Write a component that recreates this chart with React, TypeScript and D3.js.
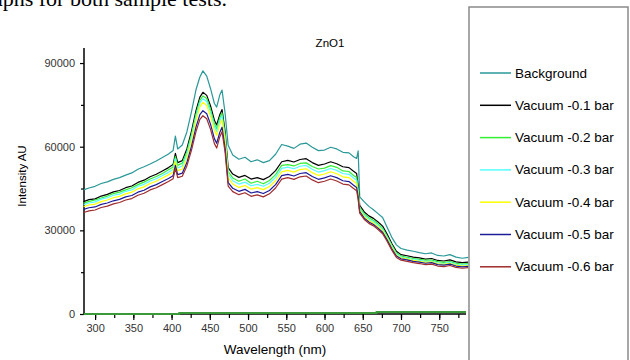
import React, { useEffect, useRef } from 'react'
import * as d3 from 'd3'

// wavelength grid (nm)
const wavelengths = [
  285, 292, 300, 308, 316, 324, 332, 340, 348, 356, 364, 372, 380, 388, 396, 402, 405, 408, 414, 420,
  426, 432, 437, 441, 446, 451, 456, 459, 463, 466, 470, 474, 480, 488, 496, 504, 512, 520, 528, 536,
  544, 552, 560, 568, 576, 584, 592, 600, 608, 616, 624, 632, 638, 642, 644, 646, 652, 658, 664, 670,
  676, 682, 688, 694, 700, 708, 716, 724, 732, 740, 748, 756, 764, 772, 780, 788
]

const background = [
  44500, 45200, 45800, 46800, 47400, 48300, 48900, 49800, 50600, 51900, 52800, 53800, 54900, 56100, 57400, 58600, 63800, 59200, 60600, 65300,
  72500, 80500, 85000, 87200, 85300, 80800, 75500, 74200, 78500, 80300, 72000, 60500, 57000, 55500, 56200, 54600, 55300, 54300, 55000, 57300,
  60800, 60200, 59400, 60900, 61300, 59800, 58600, 58800, 59800, 59200, 58000, 57800, 56400, 55800, 58500, 42000, 40200, 38600, 37400, 36000,
  34600, 31000, 27500, 24800, 23500, 22900, 22500, 22000, 21600, 21900, 21000, 20800, 21300, 20400, 20000, 20300
]

const vacuum01 = [
  40300, 41000, 41300, 42300, 42900, 43800, 44300, 45300, 45900, 47200, 48000, 49200, 50100, 51300, 52500, 53600, 57600, 54300, 55000, 59200,
  65500, 73000, 77800, 79500, 78400, 74600, 69500, 67800, 71500, 73300, 65500, 52500, 50200, 49000, 49700, 48400, 48900, 48200, 49300, 51400,
  54600, 55100, 54500, 55400, 55700, 54300, 53300, 53800, 54600, 53900, 52800, 52500, 51200, 50400, 46000, 39000, 36600, 35200, 34300, 33000,
  31500, 28600, 25300, 22500, 21300, 20900, 20400, 20100, 19700, 19900, 19200, 19000, 19400, 18700, 18400, 18600
]

const vacuum02 = [
  39700, 40400, 40900, 41600, 42300, 43200, 43700, 44500, 45300, 46400, 47300, 48400, 49300, 50400, 51700, 52700, 56500, 53300, 54100, 58100,
  64300, 71800, 76600, 78200, 77300, 73300, 68200, 66500, 70300, 72100, 64100, 51100, 48800, 47600, 48400, 46900, 47600, 46700, 47900, 50000,
  53300, 53600, 53100, 54000, 54200, 52900, 52000, 52300, 53200, 52600, 51300, 51100, 49700, 49000, 44500, 38200, 35900, 34500, 33600, 32300,
  30700, 27800, 24700, 21900, 20800, 20300, 19900, 19600, 19300, 19300, 18800, 18500, 18800, 18200, 17900, 18100
]

const vacuum03 = [
  39200, 39800, 40200, 41200, 41700, 42600, 43000, 44000, 44500, 45800, 46500, 47700, 48500, 49700, 50800, 51900, 55700, 52400, 53100, 57200,
  63400, 70900, 75700, 77200, 76200, 72300, 67200, 65500, 69300, 71100, 63200, 50200, 47800, 46600, 47300, 46000, 46500, 45800, 46900, 49000,
  52200, 52700, 52100, 53000, 53300, 51900, 50900, 51400, 52200, 51500, 50400, 50100, 48800, 48000, 44000, 37700, 35400, 34000, 33100, 31800,
  30300, 27500, 24300, 21500, 20400, 20000, 19500, 19200, 18800, 19000, 18300, 18100, 18500, 17800, 17500, 17700
]

const vacuum04 = [
  38500, 39100, 39400, 40300, 40900, 41700, 42200, 43100, 43700, 44900, 45600, 46800, 47600, 48800, 49900, 50900, 54700, 51400, 52000, 56000,
  62100, 69500, 74300, 75900, 74800, 70900, 65800, 64100, 67900, 69700, 61900, 48900, 46600, 45400, 46100, 44800, 45300, 44600, 45700, 47800,
  51000, 51500, 50900, 51800, 52100, 50700, 49700, 50200, 51000, 50300, 49200, 48900, 47600, 46800, 43000, 37200, 34900, 33500, 32600, 31300,
  29800, 27000, 23800, 21100, 20100, 19700, 19200, 18900, 18500, 18700, 18000, 17800, 18200, 17500, 17200, 17400
]

const vacuum05 = [
  37500, 38100, 38400, 39300, 39800, 40600, 41100, 42000, 42500, 43700, 44400, 45600, 46400, 47500, 48600, 49600, 53300, 50000, 50500, 54300,
  60100, 67100, 71500, 72900, 71800, 68000, 62900, 61200, 65100, 67000, 59500, 47100, 45100, 44000, 44700, 43400, 43900, 43200, 44300, 46400,
  49600, 50100, 49500, 50400, 50700, 49300, 48300, 48800, 49600, 48900, 47800, 47500, 46200, 45400, 42000, 36700, 34400, 33000, 32100, 30800,
  29300, 26500, 23400, 20800, 19800, 19400, 18900, 18600, 18200, 18400, 17700, 17500, 17900, 17200, 16900, 17100
]

const vacuum06 = [
  36400, 37000, 37300, 38200, 38700, 39500, 40000, 40900, 41400, 42600, 43300, 44500, 45300, 46400, 47500, 48500, 52200, 48900, 49400, 53100,
  58700, 65500, 69800, 71100, 70000, 66200, 61100, 59500, 63500, 65400, 58000, 45900, 43900, 42800, 43500, 42200, 42700, 42000, 43100, 45200,
  48400, 48900, 48300, 49200, 49500, 48100, 47100, 47600, 48400, 47700, 46600, 46300, 45000, 44200, 41000, 36200, 33900, 32500, 31600, 30300,
  28800, 26000, 22900, 20300, 19300, 18900, 18400, 18100, 17700, 17900, 17200, 17000, 17400, 16700, 16400, 16600
]

// flat trace lying on the zero line
const baselineWl = [285, 410, 668, 785]
const baselineVals = [0, 360, 720, 720]

const seriesNames = ['Background', 'Vacuum -0.1 bar', 'Vacuum -0.2 bar', 'Vacuum -0.3 bar', 'Vacuum -0.4 bar', 'Vacuum -0.5 bar', 'Vacuum -0.6 bar']
const seriesValues = [background, vacuum01, vacuum02, vacuum03, vacuum04, vacuum05, vacuum06]
const seriesColors = ['#2a9898', '#000000', '#33ee33', '#55ffff', '#ffff00', '#1c1c99', '#a02c2c']

const xTicks = [300, 350, 400, 450, 500, 550, 600, 650, 700, 750]
const yTicks = [0, 30000, 60000, 90000]

const W = 630
const H = 360
const font = 'Arial, "Liberation Sans", sans-serif'

function Spectrum() {
  const ref = useRef<SVGSVGElement | null>(null)

  useEffect(() => {
    const svg = d3.select(ref.current)
    svg.selectAll('*').remove()

    const x = d3.scaleLinear().domain([285.5, 785]).range([84, 466])
    const y = d3.scaleLinear().domain([0, 95400]).range([314, 48])

    svg.append('rect').attr('width', W).attr('height', H).attr('fill', '#fff')

    // clipped text from the surrounding page
    svg.append('text')
      .attr('x', 227).attr('y', 6)
      .attr('text-anchor', 'end')
      .attr('font-family', '"Liberation Serif", "Times New Roman", serif')
      .attr('font-size', 22)
      .attr('fill', '#000')
      .text('graphs for both sample tests.')

    // x axis
    const xMinor = svg.append('g').attr('transform', 'translate(0,314)')
      .call(d3.axisBottom(x).tickValues(d3.range(300, 786, 25)).tickSize(4).tickFormat(() => ''))
    xMinor.select('.domain').remove()
    const xMajor = svg.append('g').attr('transform', 'translate(0,314)')
      .call(d3.axisBottom(x).tickValues(xTicks).tickSize(6).tickPadding(4))
    xMajor.select('.domain').remove()
    xMajor.selectAll('text').attr('font-size', 11).attr('font-family', font).attr('fill', '#333')

    // y axis
    const yMinor = svg.append('g').attr('transform', 'translate(84,0)')
      .call(d3.axisLeft(y).tickValues(d3.range(15000, 95000, 30000)).tickSize(3).tickFormat(() => ''))
    yMinor.select('.domain').remove()
    const yMajor = svg.append('g').attr('transform', 'translate(84,0)')
      .call(d3.axisLeft(y).tickValues(yTicks).tickSize(4).tickPadding(5).tickFormat(d3.format('d')))
    yMajor.select('.domain').remove()
    yMajor.selectAll('text').attr('font-size', 11).attr('font-family', font).attr('fill', '#333')
    svg.selectAll('.tick line').attr('stroke', '#000').attr('stroke-width', 1.2)

    svg.append('line').attr('x1', 84).attr('x2', 84).attr('y1', 48).attr('y2', 315)
      .attr('stroke', '#000').attr('stroke-width', 1.5)
    svg.append('line').attr('x1', 83).attr('x2', 466).attr('y1', 314).attr('y2', 314)
      .attr('stroke', '#000').attr('stroke-width', 1.5)

    // spectra
    const line = d3.line<number>()
      .x((_, i) => x(wavelengths[i]))
      .y(d => y(d))
    seriesValues.forEach((vals, k) => {
      svg.append('path')
        .attr('d', line(vals))
        .attr('fill', 'none')
        .attr('stroke', seriesColors[k])
        .attr('stroke-width', 1.2)
        .attr('stroke-linejoin', 'round')
    })

    const baseLine = d3.line<number>()
      .x((_, i) => x(baselineWl[i]))
      .y(d => y(d))
      .curve(d3.curveStepAfter)
    svg.append('path')
      .attr('d', baseLine(baselineVals))
      .attr('fill', 'none')
      .attr('stroke', '#3a9a3a')
      .attr('stroke-width', 1.8)

    // labels
    svg.append('text')
      .attr('x', 330).attr('y', 47)
      .attr('text-anchor', 'middle')
      .attr('font-family', font).attr('font-size', 11.5)
      .text('ZnO1')
    svg.append('text')
      .attr('x', 275).attr('y', 354)
      .attr('text-anchor', 'middle')
      .attr('font-family', font).attr('font-size', 13.5)
      .text('Wavelength (nm)')
    svg.append('text')
      .attr('transform', 'translate(26,176) rotate(-90)')
      .attr('text-anchor', 'middle')
      .attr('font-family', font).attr('font-size', 11.5)
      .text('Intensity AU')

    // legend
    svg.append('rect')
      .attr('x', 469).attr('y', 7).attr('width', 159).attr('height', 380)
      .attr('fill', 'none').attr('stroke', '#8a8a8a').attr('stroke-width', 1.5)
    const legend = svg.append('g')
    seriesNames.forEach((name, k) => {
      const ly = 73 + k * 32.3
      legend.append('line')
        .attr('x1', 480).attr('x2', 511).attr('y1', ly).attr('y2', ly)
        .attr('stroke', seriesColors[k]).attr('stroke-width', 1.5)
      legend.append('text')
        .attr('x', 515).attr('y', ly + 4.5)
        .attr('font-family', font).attr('font-size', 13.5)
        .text(name)
    })
  }, [])

  return <svg ref={ref} width={W} height={H} style={{ position: 'absolute', left: 0, top: 0 }} />
}

export default function App() {
  return <Spectrum />
}
